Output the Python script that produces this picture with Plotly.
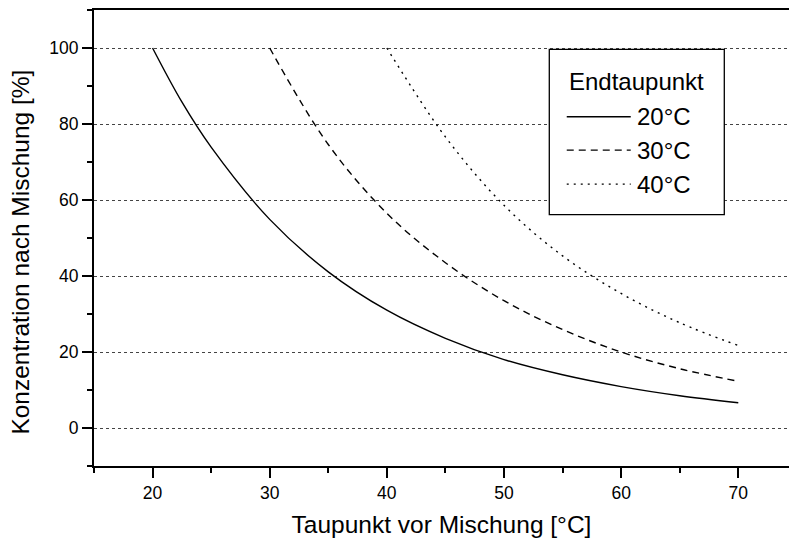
import plotly.graph_objects as go

# ---- data ----
x_20 = [20, 22.5, 25, 30, 35, 40, 45, 50, 55, 60, 65, 70]
y_20 = [100, 85.8, 73.9, 54.9, 41.1, 31.0, 23.6, 18.0, 14.0, 10.9, 8.5, 6.65]

x_30 = [30, 35, 40, 45, 50, 55, 60, 65, 70]
y_30 = [100, 74.6, 56.5, 43.5, 33.5, 25.9, 20.0, 15.6, 12.3]

x_40 = [40, 45, 50, 55, 60, 65, 70]
y_40 = [100, 76.6, 58.6, 45.3, 35.4, 27.7, 21.7]

series_names = ["20°C", "30°C", "40°C"]
legend_title = "Endtaupunkt"
x_title = "Taupunkt vor Mischung [°C]"
y_title = "Konzentration nach Mischung [%]"
x_ticks = [20, 30, 40, 50, 60, 70]
y_ticks = [0, 20, 40, 60, 80, 100]

FONT = "Liberation Sans, Arial, sans-serif"
dashes = ["solid", "7px,5px", "2px,5px"]

fig = go.Figure()
for xs, ys, name, dash in zip([x_20, x_30, x_40], [y_20, y_30, y_40], series_names, dashes):
    fig.add_trace(go.Scatter(x=xs, y=ys, mode="lines", name=name,
                             line=dict(color="black", width=1.4, dash=dash, shape="spline", smoothing=1.0)))

fig.update_layout(
    width=789, height=542,
    margin=dict(l=94, r=0, t=10, b=76),
    paper_bgcolor="white", plot_bgcolor="white",
    showlegend=False,
    font=dict(family=FONT, color="black"),
)

fig.update_xaxes(
    range=[15, 74.33], tickvals=x_ticks, ticks="outside", ticklen=10, tickwidth=1.5, tickcolor="black",
    showline=True, linewidth=2, linecolor="black", mirror=True, showgrid=False, zeroline=False,
    tickfont=dict(size=17.5, family=FONT, color="black"),
    minor=dict(dtick=5, tick0=15, ticks="outside", ticklen=5, tickwidth=1.5, tickcolor="black", showgrid=False),
    title=dict(text=x_title, font=dict(size=24.5, family=FONT, color="black"), standoff=14),
)
fig.update_yaxes(
    range=[-10, 110], tickvals=y_ticks, ticks="outside", ticklen=10, tickwidth=1.5, tickcolor="black",
    showline=True, linewidth=2, linecolor="black", mirror=False, zeroline=False,
    showgrid=True, gridcolor="#444444", gridwidth=1, griddash="dot",
    tickfont=dict(size=17.5, family=FONT, color="black"),
    minor=dict(dtick=10, tick0=-10, ticks="outside", ticklen=5, tickwidth=1.5, tickcolor="black", showgrid=False),
)

# y-axis title (placed as in the reference)
fig.add_annotation(text=y_title, xref="paper", yref="paper", x=-0.1058, y=0.469,
                   xanchor="center", yanchor="middle", textangle=-90, showarrow=False,
                   font=dict(size=24.5, family=FONT, color="black"))

# custom legend box
fig.add_shape(type="rect", xref="paper", yref="paper", x0=0.6551, x1=0.9069, y0=0.5512, y1=0.9138,
              line=dict(color="black", width=1.3), fillcolor="white", layer="above")
fig.add_annotation(text=legend_title, xref="paper", yref="paper", x=0.7809, y=0.8442,
                   xanchor="center", yanchor="middle", showarrow=False,
                   font=dict(size=24, family=FONT, color="black"))
legend_y = [0.7659, 0.6928, 0.6182]
for name, dash, ly in zip(series_names, dashes, legend_y):
    fig.add_shape(type="line", xref="paper", yref="paper", x0=0.6802, x1=0.7723, y0=ly, y1=ly,
                  line=dict(color="black", width=1.3, dash=dash), layer="above")
    fig.add_annotation(text=name, xref="paper", yref="paper", x=0.7790, y=ly,
                       xanchor="left", yanchor="middle", showarrow=False,
                       font=dict(size=24, family=FONT, color="black"))

fig.write_html("out.html", config={"displayModeBar": False},
               post_script="document.body.style.margin='0';document.body.style.overflow='hidden';")
